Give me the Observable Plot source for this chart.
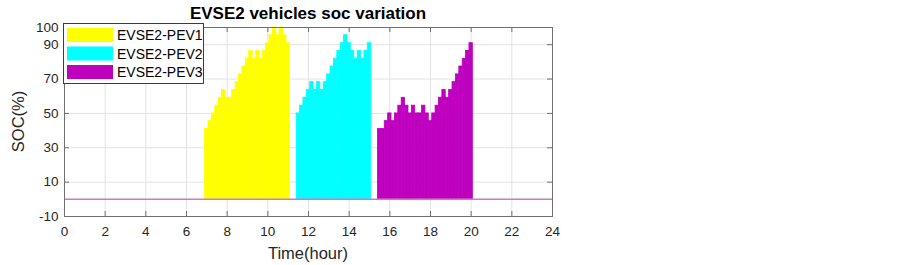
<!DOCTYPE html>
<html>
<head>
<meta charset="utf-8">
<script src="https://cdn.jsdelivr.net/npm/d3@7"></script>
<script src="https://cdn.jsdelivr.net/npm/@observablehq/plot@0.6"></script>
<style>
  html, body { margin: 0; padding: 0; background: #fff; }
  #chart { width: 903px; height: 265px; }
  svg { font-family: "Liberation Sans", Arial, Helvetica, sans-serif; }
</style>
</head>
<body>
<div id="chart"></div>
<script>
// ---- data ----
const seriesNames = ["EVSE2-PEV1", "EVSE2-PEV2", "EVSE2-PEV3"];
const seriesColors = ["#ffff00", "#00ffff", "#bf00bf"];
const slotHours = 1 / 6; // 10-minute slots
const pev1Start = 7.0;
const pev1Soc = [40.9, 45.5, 50, 54.5, 59.1, 63.6, 59.1, 59.1, 63.6, 68.2, 72.7, 77.3, 81.8, 86.4, 81.8, 86.4, 81.8, 86.4, 90.9, 95.5, 100, 95.5, 100, 95.5, 90.9];
const pev2Start = 11.5;
const pev2Soc = [50, 54.5, 59.1, 63.6, 68.2, 63.6, 68.2, 63.6, 68.2, 72.7, 77.3, 81.8, 86.4, 90.9, 95.5, 90.9, 86.4, 81.8, 86.4, 81.8, 86.4, 90.9];
const pev3Start = 15.5;
const pev3Soc = [40.9, 40.9, 45.5, 50, 45.5, 50, 54.5, 59.1, 54.5, 50, 54.5, 50, 50, 54.5, 50, 45.5, 50, 54.5, 59.1, 63.6, 59.1, 63.6, 68.2, 72.7, 77.3, 81.8, 86.4, 90.9];
const xTicks = [0, 2, 4, 6, 8, 10, 12, 14, 16, 18, 20, 22, 24];
const yTicks = [-10, 10, 30, 50, 70, 90, 100];
const xDomain = [0, 24];
const yDomain = [-10, 100];
const titleText = "EVSE2 vehicles soc variation";
const xLabel = "Time(hour)";
const yLabel = "SOC(%)";

// build table
const starts = [pev1Start, pev2Start, pev3Start];
const socs = [pev1Soc, pev2Soc, pev3Soc];
const bars = [];
socs.forEach((arr, s) => {
  arr.forEach((v, i) => {
    const t = starts[s] + i * slotHours;
    bars.push({series: seriesNames[s], x1: t - slotHours / 2, x2: t + slotHours / 2, soc: v});
  });
});

const W = 903, H = 265, ML = 64, MR = 351, MT = 27, MB = 49;
const pxY = (yDomain[1] - yDomain[0]) / (H - MT - MB);
const pxX = (xDomain[1] - xDomain[0]) / (W - ML - MR);
const tickLenY = 5 * pxY, tickLenX = 5 * pxX;
const axisCol = "#6f6f6f";

const plot = Plot.plot({
  width: W, height: H,
  marginLeft: ML, marginRight: MR, marginTop: MT, marginBottom: MB,
  style: {fontFamily: '"Liberation Sans", Arial, sans-serif', background: "#fff"},
  x: {domain: xDomain},
  y: {domain: yDomain},
  color: {domain: seriesNames, range: seriesColors},
  marks: [
    Plot.ruleX(xTicks, {stroke: "#e3e3e3", strokeWidth: 1}),
    Plot.ruleY(yTicks, {stroke: "#e3e3e3", strokeWidth: 1}),
    Plot.rectY(bars, {x1: "x1", x2: "x2", y1: 0, y2: "soc", fill: "series", stroke: "series", strokeWidth: 0.8}),
    Plot.ruleY([0], {x1: xDomain[0], x2: xDomain[1], stroke: "#c77cc7", strokeWidth: 1.5}),
    // inward ticks
    Plot.ruleX(xTicks, {y1: yDomain[0], y2: yDomain[0] + tickLenY, stroke: axisCol}),
    Plot.ruleX(xTicks, {y1: yDomain[1], y2: yDomain[1] - tickLenY, stroke: axisCol}),
    Plot.ruleY(yTicks, {x1: xDomain[0], x2: xDomain[0] + tickLenX, stroke: axisCol}),
    Plot.ruleY(yTicks, {x1: xDomain[1], x2: xDomain[1] - tickLenX, stroke: axisCol}),
    Plot.frame({stroke: axisCol}),
    Plot.axisX(xTicks, {tickSize: 0, tickPadding: 10, fontSize: 13.5, label: null, fill: "#262626", tickFormat: d => String(d)}),
    Plot.axisY(yTicks, {tickSize: 0, tickPadding: 6, fontSize: 13.5, label: null, fill: "#262626", tickFormat: d => String(d)})
  ]
});

const svg = d3.select(plot);
// title
svg.append("text").attr("x", ML + (W - ML - MR) / 2).attr("y", 18.5)
  .attr("text-anchor", "middle").attr("font-size", 17).attr("font-weight", "bold")
  .attr("fill", "#000").text(titleText);
// axis labels
svg.append("text").attr("x", ML + (W - ML - MR) / 2).attr("y", 259)
  .attr("text-anchor", "middle").attr("font-size", 16.5).attr("fill", "#262626").text(xLabel);
svg.append("text").attr("transform", `translate(24,${MT + (H - MT - MB) / 2}) rotate(-90)`)
  .attr("text-anchor", "middle").attr("font-size", 16.5).attr("fill", "#262626").text(yLabel);
// legend
const lg = svg.append("g");
lg.append("rect").attr("x", 63.5).attr("y", 23.5).attr("width", 140).attr("height", 60)
  .attr("fill", "#fff").attr("stroke", "#3c3c3c").attr("stroke-width", 1);
seriesNames.forEach((n, i) => {
  const y0 = 28 + i * 18.5;
  lg.append("rect").attr("x", 67).attr("y", y0).attr("width", 46).attr("height", 14).attr("fill", seriesColors[i]);
  lg.append("text").attr("x", 117).attr("y", y0 + 7).attr("dy", "0.36em")
    .attr("text-anchor", "start").attr("font-size", 14).attr("fill", "#000").text(n);
});

document.getElementById("chart").appendChild(plot);
</script>
</body>
</html>
